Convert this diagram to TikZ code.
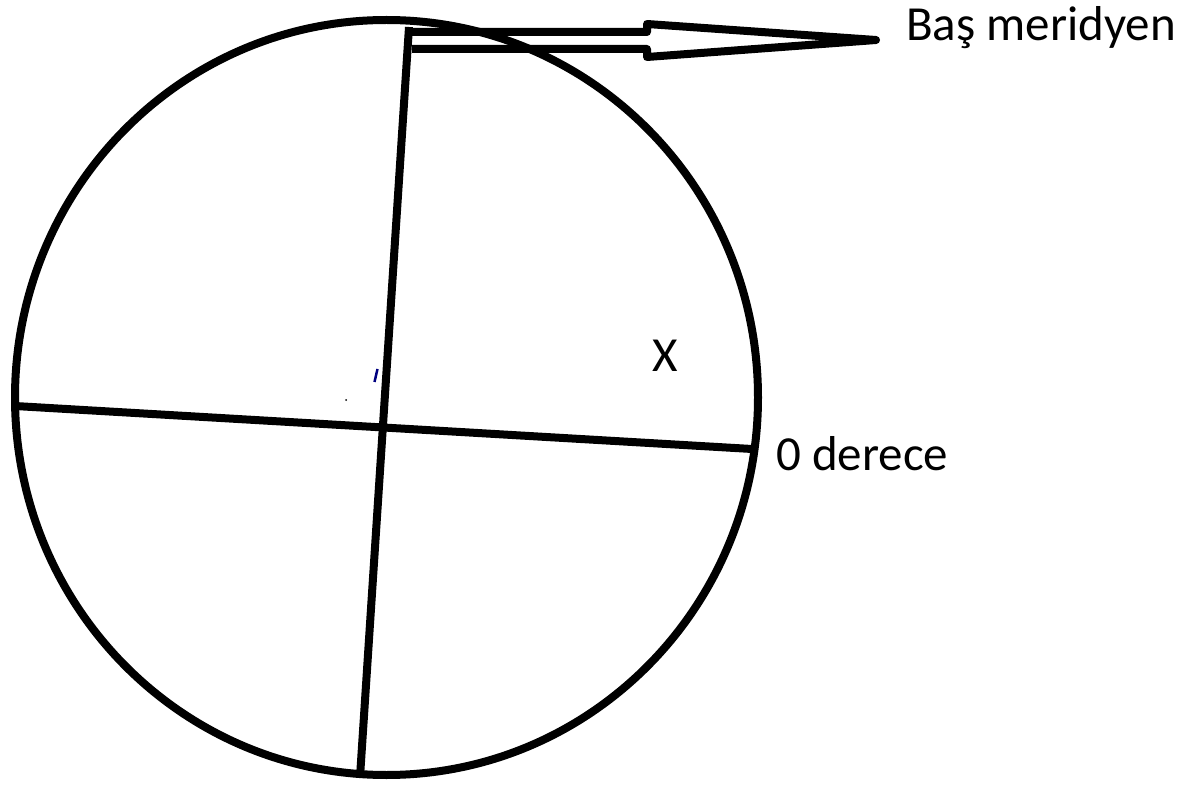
\documentclass[tikz,border=0pt]{standalone}
\usepackage{fontspec}
\setmainfont{Carlito}
\begin{document}
\begin{tikzpicture}[x=1pt,y=-1pt,
  ink/.style={line width=8pt,black},
  lbl/.style={inner sep=0pt,anchor=base west,font=\fontsize{49}{53}\selectfont}]
\useasboundingbox[fill=white] (0,0) rectangle (1192,786);
% globe
\draw[ink] (386.5,397.5) ellipse [x radius=371.5, y radius=377.5];
% meridian and equator
\coordinate (mtop) at (409,27);
\coordinate (mbot) at (360,777);
\coordinate (eqw) at (15,406);
\coordinate (eqe) at (752,449);
\draw[ink] (mtop) -- (mbot);
\draw[ink] (eqw) -- (eqe);
% hollow arrow
\coordinate (a1) at (409,32);
\coordinate (a2) at (647,32);
\coordinate (a3) at (647,24);
\coordinate (tip) at (876,40);
\coordinate (a5) at (647,57);
\coordinate (a6) at (647,49);
\coordinate (a7) at (412,49);
\draw[ink,line join=round] (a1) -- (a2) -- (a3) -- (tip) -- (a5) -- (a6) -- (a7);
% small marks
\draw[line width=2.5pt,color=blue!50!black] (377.5,369) -- (374.5,382);
\fill[black] (346,400) circle (1pt);
% labels
\node[lbl] (bas) at (906,41) {Baş meridyen};
\node[lbl] (der) at (776,470) {0 derece};
\node[lbl] (x) at (652,371) {X};
\end{tikzpicture}
\end{document}
